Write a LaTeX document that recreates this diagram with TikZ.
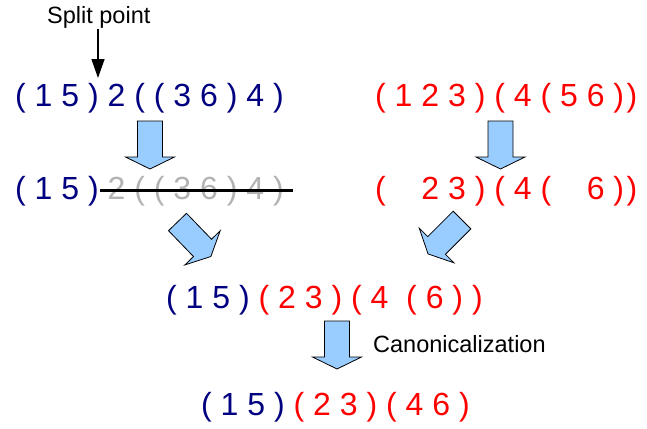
\documentclass[tikz,border=0pt]{standalone}
\usepackage{fontspec}
\setmainfont{Liberation Sans}
\usetikzlibrary{arrows.meta, positioning}
\definecolor{seqblue}{RGB}{0,0,128}
\definecolor{seqred}{RGB}{255,0,0}
\definecolor{cutgrey}{RGB}{179,179,179}
\definecolor{arrowblue}{RGB}{153,204,255}
\tikzset{
  seq/.style={anchor=base west, inner sep=0pt, font=\fontsize{32}{38}\selectfont},
  note/.style={anchor=base west, inner sep=0pt, font=\fontsize{23.5}{28}\selectfont},
  bigarrow/.pic={
    \draw[fill=arrowblue, line width=0.8pt, line join=miter]
      (0,-12.5) -- (36,-12.5) -- (36,-24.5) -- (48,0) -- (36,24.5) -- (36,12.5) -- (0,12.5) -- cycle;
  }
}

\begin{document}
\begin{tikzpicture}[x=1pt, y=-1pt]
\useasboundingbox (0,0) rectangle (647,428);

% Split point
\node[note] (split) at (47,24) {Split point};
\coordinate (cut) at (98,78);
\draw[line width=1.4pt, -{Triangle[width=13pt, length=19pt]}] (split.south -| cut) -- (cut);

% Parents
\node[seq] (orig) at (15,106) {\color{seqblue}( 1 5 ) 2 ( ( 3 6 ) 4 )};
\node[seq] (donor) at (375,106) {\color{seqred}( 1 2 3 ) ( 4 ( 5 6 )\kern2.5pt)};

\pic[rotate=-90] at (150,121) {bigarrow};
\pic[rotate=-90] at (500.5,121) {bigarrow};

% After the cut
\node[seq] (kept) at (15,199) {\textcolor{seqblue}{( 1 5 )} \textcolor{cutgrey}{2 ( ( 3 6 ) 4 )}};
\draw[line width=3pt] (100,190) -- (293,190);
\node[seq] (rest) at (375,199) {\color{seqred}( \phantom{1} 2 3 ) ( 4 ( \phantom{5} 6 )\kern2.5pt)};

\pic[rotate=-46] at (177.5,222) {bigarrow};
\pic[rotate=-135] at (462,220) {bigarrow};

% Child
\node[seq] (merged) at (166,308) {\textcolor{seqblue}{( 1 5 )} \textcolor{seqred}{( 2 3 ) ( 4 \ ( 6 ) )}};

\pic[rotate=-90] at (337,321) {bigarrow};
\node[note] (canlabel) at (373,352) {Canonicalization};

\node[seq] (canon) at (201,415) {\textcolor{seqblue}{( 1 5 )} \textcolor{seqred}{( 2 3 ) ( 4 6 )}};
\end{tikzpicture}
\end{document}
